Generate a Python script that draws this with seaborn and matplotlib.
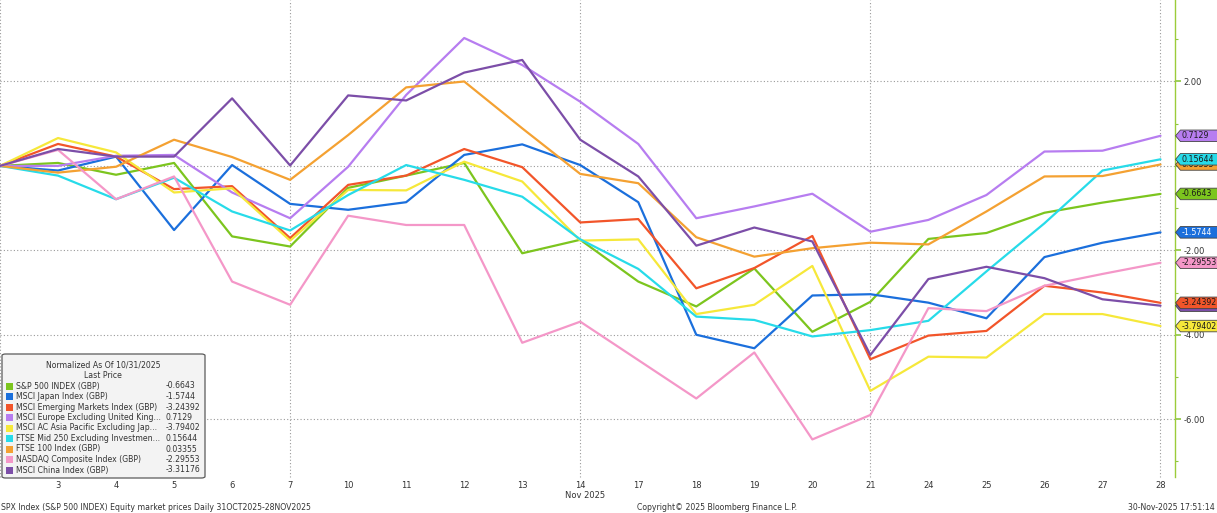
import pandas as pd
import matplotlib
matplotlib.use("Agg")
import matplotlib.pyplot as plt
import matplotlib.transforms as mtransforms
from matplotlib.path import Path
from matplotlib.patches import FancyBboxPatch, Rectangle
import seaborn as sns

# ---- data (normalized % change since 31 Oct 2025) ----
dates = pd.to_datetime([
    "2025-10-31", "2025-11-03", "2025-11-04", "2025-11-05", "2025-11-06", "2025-11-07",
    "2025-11-10", "2025-11-11", "2025-11-12", "2025-11-13", "2025-11-14",
    "2025-11-17", "2025-11-18", "2025-11-19", "2025-11-20", "2025-11-21",
    "2025-11-24", "2025-11-25", "2025-11-26", "2025-11-27", "2025-11-28",
])

sp500 = [0, 0.07, -0.21, 0.07, -1.67, -1.91, -0.52, -0.23, 0.07, -2.07, -1.75,
         -2.74, -3.33, -2.43, -3.93, -3.22, -1.73, -1.59, -1.11, -0.87, -0.6643]
japan = [0, -0.11, 0.22, -1.52, 0.02, -0.90, -1.04, -0.86, 0.26, 0.51, 0.02,
         -0.86, -4.00, -4.32, -3.07, -3.04, -3.24, -3.61, -2.16, -1.82, -1.5744]
em = [0, 0.52, 0.22, -0.55, -0.48, -1.71, -0.45, -0.23, 0.40, -0.03, -1.34,
      -1.26, -2.90, -2.42, -1.66, -4.58, -4.02, -3.91, -2.84, -3.00, -3.24392]
europe = [0, 0.00, 0.24, 0.26, -0.63, -1.24, -0.02, 1.68, 3.03, 2.39, 1.52,
          0.52, -1.24, -0.96, -0.66, -1.56, -1.28, -0.69, 0.34, 0.36, 0.7129]
asia = [0, 0.66, 0.32, -0.63, -0.53, -1.77, -0.57, -0.58, 0.10, -0.37, -1.77,
        -1.74, -3.51, -3.29, -2.37, -5.33, -4.52, -4.54, -3.51, -3.51, -3.79402]
ftse250 = [0, -0.23, -0.79, -0.28, -1.08, -1.53, -0.69, 0.02, -0.33, -0.73, -1.74,
           -2.44, -3.57, -3.65, -4.04, -3.89, -3.67, -2.50, -1.36, -0.11, 0.15644]
ftse100 = [0, -0.16, -0.02, 0.62, 0.21, -0.33, 0.73, 1.86, 2.00, 0.89, -0.19,
           -0.41, -1.69, -2.15, -1.95, -1.82, -1.86, -1.08, -0.25, -0.24, 0.03355]
nasdaq = [0, 0.38, -0.79, -0.25, -2.74, -3.29, -1.18, -1.40, -1.40, -4.19, -3.69,
          -4.60, -5.51, -4.42, -6.48, -5.90, -3.37, -3.44, -2.84, -2.56, -2.29553]
china = [0, 0.40, 0.22, 0.22, 1.60, 0.01, 1.67, 1.55, 2.21, 2.51, 0.62,
         -0.25, -1.89, -1.46, -1.79, -4.48, -2.68, -2.39, -2.66, -3.16, -3.31176]

names = ["S&P 500 INDEX (GBP)", "MSCI Japan Index (GBP)", "MSCI Emerging Markets Index (GBP)",
         "MSCI Europe Excluding United King...", "MSCI AC Asia Pacific Excluding Jap...",
         "FTSE Mid 250 Excluding Investmen...", "FTSE 100 Index (GBP)",
         "NASDAQ Composite Index (GBP)", "MSCI China Index (GBP)"]
series = [sp500, japan, em, europe, asia, ftse250, ftse100, nasdaq, china]
colors = ["#7cc51e", "#1b6fdc", "#f2552a", "#b77df0", "#f6e83a",
          "#27dbe9", "#f4a132", "#f497c8", "#7c4ea8"]
tag_text = ["#1a1a1a", "white", "#1a1a1a", "#1a1a1a", "#1a1a1a",
            "#1a1a1a", "#1a1a1a", "#1a1a1a", "#1a1a1a"]
tag_order = [8, 2, 4, 6, 5, 3, 0, 1, 7]  # drawn first -> behind

rows = []
for name, vals in zip(names, series):
    for i, v in enumerate(vals):
        rows.append({"idx": i, "value": v, "series": name})
df = pd.DataFrame(rows)

W, H = 1217, 513
sns.set_style("white")
plt.rcParams["font.family"] = ["DejaVu Sans"]
fs = 5.6
txt = "#333333"

fig = plt.figure(figsize=(W / 100, H / 100), dpi=100)
ax = fig.add_axes([0, 1 - 477 / H, 1175 / W, 477 / H])

sns.lineplot(data=df, x="idx", y="value", hue="series", palette=dict(zip(names, colors)),
             hue_order=names, legend=False, lw=1.6, ax=ax, zorder=3)

ax.set_xlim(0, 20.25)
ax.set_ylim(-7.37, 3.93)
ax.set_xlabel("")
ax.set_ylabel("")

# gridlines: horizontal every 2, vertical on Fridays
for y in [2, 0, -2, -4, -6]:
    ax.axhline(y, color="#9a9a9a", lw=0.8, ls=(0, (1, 2)), zorder=1)
for i, d in enumerate(dates):
    if d.weekday() == 4:
        ax.axvline(i, color="#9a9a9a", lw=0.8, ls=(0, (1, 2)), zorder=1, clip_on=False)

for s in ["left", "top", "bottom"]:
    ax.spines[s].set_visible(False)
ax.spines["right"].set_color("#9ccc3a")
ax.spines["right"].set_linewidth(1.0)

ax.yaxis.tick_right()
ax.set_yticks([2, 0, -2, -4, -6])
ax.set_yticklabels(["2.00", "0.00", "-2.00", "-4.00", "-6.00"])
ax.set_yticks([3, 1, -1, -3, -5, -7], minor=True)
ax.tick_params(axis="y", which="major", direction="out", length=4, width=1.2,
               color="#8cc63f", pad=2, labelsize=fs + 0.4, labelcolor=txt)
ax.tick_params(axis="y", which="minor", direction="out", length=2.5, width=0.8, color="#8cc63f")

ax.set_xticks(range(len(dates)))
ax.set_xticklabels([str(d.day) for d in dates])
ax.tick_params(axis="x", length=0, pad=3, labelsize=fs + 0.4, labelcolor=txt)
ax.xaxis.get_majorticklabels()[0].set_visible(False)

fx = lambda x: x / W
fy = lambda y: 1 - y / H

fig.text(fx(585), fy(495), "Nov 2025", ha="center", va="center", fontsize=fs + 0.4, color=txt)
fig.text(fx(1), fy(507), "SPX Index (S&P 500 INDEX) Equity market prices Daily 31OCT2025-28NOV2025",
         ha="left", va="center", fontsize=fs, color=txt)
fig.text(fx(717), fy(507), "Copyright\u00a9 2025 Bloomberg Finance L.P.",
         ha="center", va="center", fontsize=fs, color=txt)
fig.text(fx(1215), fy(507), "30-Nov-2025 17:51:14", ha="right", va="center", fontsize=fs, color=txt)


def tag_box(x0, y0, width, height, mutation_size):
    # price tag: box with a pointed left end, running off the right edge
    pad = 0.2 * mutation_size
    l, r = x0 - pad, x0 + 7 * mutation_size
    b, t = y0 - pad * 0.8, y0 + height + pad * 0.8
    tip = l - 0.42 * (t - b)
    return Path([(tip, (b + t) / 2), (l, t), (r, t), (r, b), (l, b), (tip, (b + t) / 2)], closed=True)


trans = mtransforms.blended_transform_factory(fig.transFigure, ax.transData)
for z, k in enumerate(tag_order):
    last = series[k][-1]
    ax.text(fx(1182), last, f"{last:g}", transform=trans, ha="left", va="center",
            fontsize=fs + 0.1, color=tag_text[k], clip_on=False, zorder=10 + z,
            bbox=dict(boxstyle=tag_box, facecolor=colors[k], edgecolor="#444444", lw=0.6))

# custom legend box
box = FancyBboxPatch((fx(2), fy(478)), fx(203), 124 / H, boxstyle="round,pad=0,rounding_size=0.003",
                     facecolor="#f3f3f3", edgecolor="#5a5a5a", lw=0.9, transform=fig.transFigure,
                     zorder=5)
fig.patches.append(box)
fig.text(fx(103), fy(365), "Normalized As Of 10/31/2025", ha="center", va="center", fontsize=fs, color=txt, zorder=6)
fig.text(fx(103), fy(376), "Last Price", ha="center", va="center", fontsize=fs, color=txt, zorder=6)
for j, (name, vals) in enumerate(zip(names, series)):
    yy = 386 + j * 10.5
    fig.patches.append(Rectangle((fx(6), fy(yy + 3.5)), fx(7), 7 / H, facecolor=colors[j],
                                 edgecolor="none", transform=fig.transFigure, zorder=6))
    fig.text(fx(16), fy(yy), name, ha="left", va="center", fontsize=fs, color=txt, zorder=6)
    fig.text(fx(166), fy(yy), f"{vals[-1]:g}", ha="left", va="center", fontsize=fs, color=txt, zorder=6)

fig.savefig("out.png", dpi=100)
